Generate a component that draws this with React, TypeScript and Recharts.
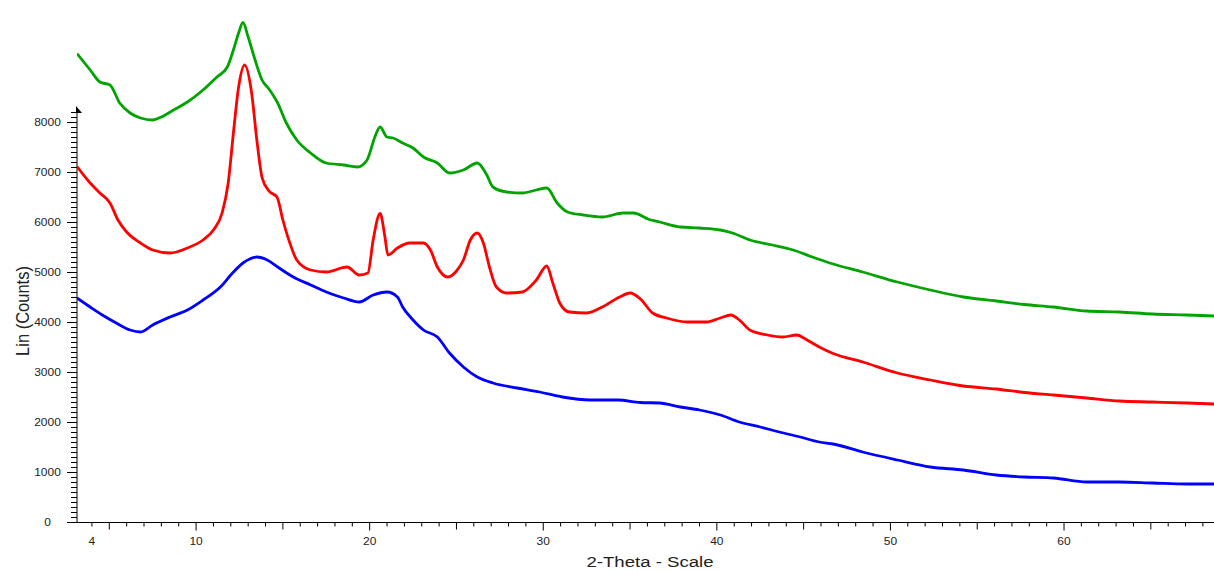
import React from 'react';
import { LineChart, Line, XAxis, YAxis, ReferenceLine, ReferenceDot } from 'recharts';

// 2-Theta positions and counts, per sample
const greenTheta = [3.14, 3.9, 4.46, 5.04, 5.6, 6.2, 6.8, 7.5, 8.0, 8.7, 9.5, 10.4, 11.2, 11.8, 12.15, 12.45, 12.7, 13.0, 13.4, 13.8, 14.2, 14.7, 15.2, 15.8, 16.6, 17.5, 18.5, 19.3, 19.85, 20.3, 20.6, 21.0, 21.35, 21.9, 22.5, 23.1, 23.9, 24.6, 25.4, 26.2, 26.75, 27.1, 27.9, 28.8, 29.6, 30.2, 30.8, 31.4, 32.3, 33.4, 34.6, 35.2, 36.1, 36.7, 37.9, 39.0, 40.2, 40.9, 41.9, 43.2, 44.4, 45.5, 46.7, 48.4, 50.4, 52.3, 54.2, 56.1, 57.7, 59.4, 61.3, 63.2, 65.1, 67.1, 68.64];
const greenCounts = [9380, 9050, 8810, 8750, 8390, 8190, 8090, 8050, 8110, 8250, 8410, 8650, 8910, 9110, 9450, 9790, 10000, 9710, 9250, 8850, 8670, 8390, 7990, 7650, 7390, 7190, 7150, 7110, 7250, 7710, 7910, 7710, 7690, 7590, 7490, 7310, 7190, 6990, 7050, 7190, 6950, 6710, 6610, 6590, 6650, 6690, 6390, 6210, 6150, 6110, 6190, 6190, 6060, 6010, 5910, 5890, 5850, 5790, 5650, 5550, 5450, 5310, 5170, 5010, 4810, 4650, 4510, 4430, 4360, 4310, 4230, 4210, 4170, 4150, 4130];

const redTheta = [3.14, 3.9, 4.46, 5.04, 5.5, 6.0, 6.8, 7.5, 8.5, 9.5, 10.4, 11.0, 11.5, 11.85, 12.15, 12.45, 12.8, 13.2, 13.5, 13.8, 14.2, 14.66, 15.0, 15.4, 15.8, 16.6, 17.5, 18.7, 19.4, 19.9, 20.2, 20.6, 20.88, 21.05, 21.6, 22.3, 23.1, 23.5, 23.9, 24.5, 25.0, 25.4, 25.8, 26.2, 26.55, 26.9, 27.3, 27.9, 28.8, 29.6, 30.2, 30.55, 30.95, 31.5, 32.5, 33.4, 34.4, 35.0, 35.6, 36.3, 37.1, 38.3, 39.4, 40.2, 40.8, 41.3, 41.9, 42.9, 43.8, 44.6, 45.2, 45.9, 46.7, 48.4, 50.4, 52.3, 54.2, 56.1, 57.7, 59.4, 61.3, 63.2, 65.1, 67.1, 68.64];
const redCounts = [7120, 6790, 6590, 6390, 6050, 5810, 5590, 5450, 5390, 5490, 5650, 5850, 6190, 6790, 7790, 8710, 9150, 8590, 7650, 6900, 6630, 6510, 6050, 5590, 5250, 5050, 5010, 5110, 4950, 4990, 5650, 6180, 5710, 5350, 5490, 5590, 5590, 5450, 5110, 4910, 5030, 5250, 5650, 5790, 5590, 5110, 4710, 4590, 4610, 4850, 5130, 4790, 4390, 4210, 4190, 4310, 4510, 4590, 4470, 4190, 4090, 4010, 4010, 4090, 4150, 4050, 3850, 3750, 3710, 3750, 3650, 3510, 3380, 3210, 2990, 2850, 2730, 2670, 2600, 2550, 2490, 2430, 2410, 2390, 2370];

const blueTheta = [3.14, 3.9, 4.6, 5.4, 6.2, 6.8, 7.5, 8.5, 9.5, 10.4, 11.4, 12.1, 12.7, 13.5, 14.1, 14.7, 15.6, 16.6, 17.5, 18.5, 19.4, 20.2, 21.0, 21.6, 21.9, 22.5, 23.1, 23.9, 24.6, 25.4, 26.2, 27.1, 28.5, 29.8, 31.1, 32.7, 34.3, 35.6, 36.7, 37.9, 39.0, 40.2, 41.3, 42.5, 43.6, 44.8, 45.9, 46.7, 48.4, 50.4, 52.3, 54.2, 56.1, 57.7, 59.4, 61.3, 63.2, 65.1, 67.1, 68.64];
const blueCounts = [4490, 4310, 4150, 3990, 3850, 3810, 3950, 4110, 4250, 4450, 4710, 4990, 5190, 5310, 5250, 5110, 4910, 4750, 4610, 4490, 4410, 4550, 4610, 4510, 4310, 4050, 3850, 3710, 3390, 3110, 2910, 2790, 2690, 2610, 2510, 2450, 2450, 2400, 2390, 2310, 2250, 2150, 2010, 1910, 1810, 1710, 1610, 1570, 1410, 1250, 1110, 1050, 950, 910, 890, 810, 810, 790, 770, 770];

const xTicks = Array.from({ length: 65 }, (_, i) => i + 4);
const yTicks = Array.from({ length: 83 }, (_, i) => i * 100);
const xLabels = [4, 10, 20, 30, 40, 50, 60];

const X_MIN = 3.14;
const X_MAX = 68.64;
const Y_ARROW = 8290;

const toRows = (theta: number[], counts: number[]) =>
  theta.map((t, i) => ({ t, c: counts[i] }));

const greenData = toRows(greenTheta, greenCounts);
const redData = toRows(redTheta, redCounts);
const blueData = toRows(blueTheta, blueCounts);

const FONT = '"Liberation Sans", Arial, sans-serif';

const XTick = (props: any) => {
  const { x, y, payload } = props;
  const v = payload.value;
  const len = v % 10 === 0 ? 8 : v % 5 === 0 ? 7 : 4;
  return (
    <g>
      <line x1={x} y1={y} x2={x} y2={y + len} stroke="#000" strokeWidth={1} />
      {xLabels.includes(v) && (
        <text
          transform={`translate(${x},${y + 22.5}) scale(1.2,1)`}
          textAnchor="middle"
          fontSize={10}
          fontFamily={FONT}
          fill="#222"
        >
          {v}
        </text>
      )}
    </g>
  );
};

const YTick = (props: any) => {
  const { x, y, payload } = props;
  const v = payload.value;
  const major = v % 1000 === 0;
  const len = major ? 10 : 6;
  return (
    <g>
      <line x1={x - len} y1={y} x2={x} y2={y} stroke="#000" strokeWidth={1} />
      {major && (
        <text
          transform={`translate(${x - 29.5},${y + 3.6}) scale(1.2,1)`}
          textAnchor="middle"
          fontSize={10}
          fontFamily={FONT}
          fill="#222"
        >
          {v}
        </text>
      )}
    </g>
  );
};

const Arrow = (props: any) => {
  const { cx, cy } = props;
  return <polygon points={`${cx - 1},${cy - 2} ${cx + 5},${cy + 5} ${cx - 1},${cy + 5}`} fill="#000" />;
};

export default function App() {
  return (
    <div style={{ position: 'absolute', left: 0, top: 0 }}>
      <LineChart width={1214} height={572} margin={{ top: 2.5, right: 0, bottom: 0, left: 0 }}>
        <XAxis
          type="number"
          dataKey="t"
          domain={[X_MIN, X_MAX]}
          allowDataOverflow
          ticks={xTicks}
          interval={0}
          tick={<XTick />}
          tickLine={false}
          tickSize={0}
          tickMargin={0}
          height={49.5}
          axisLine={{ stroke: '#000', strokeWidth: 1 }}
          label={{
            content: () => (
              <text
                transform="translate(650,567) scale(1.2,1)"
                textAnchor="middle"
                fontSize={15.5}
                fontFamily={FONT}
                fill="#222"
              >
                2-Theta - Scale
              </text>
            ),
          }}
        />
        <YAxis
          type="number"
          dataKey="c"
          domain={[0, 10400]}
          allowDataOverflow
          ticks={yTicks}
          interval={0}
          tick={<YTick />}
          tickLine={false}
          tickSize={0}
          tickMargin={0}
          width={77}
          axisLine={false}
          label={{
            content: () => (
              <text
                transform="translate(29,311) rotate(-90) scale(1,1.15)"
                textAnchor="middle"
                fontSize={16.5}
                fontFamily={FONT}
                fill="#222"
              >
                Lin (Counts)
              </text>
            ),
          }}
        />
        <ReferenceLine
          segment={[
            { x: X_MIN, y: 0 },
            { x: X_MIN, y: Y_ARROW },
          ]}
          stroke="#000"
          strokeWidth={1}
        />
        <ReferenceDot x={X_MIN} y={Y_ARROW} r={0} shape={<Arrow />} />
        <Line data={greenData} dataKey="c" type="monotone" stroke="#00a400" strokeWidth={2.8} dot={false} isAnimationActive={false} />
        <Line data={redData} dataKey="c" type="monotone" stroke="#ff0000" strokeWidth={2.8} dot={false} isAnimationActive={false} />
        <Line data={blueData} dataKey="c" type="monotone" stroke="#0000ff" strokeWidth={2.8} dot={false} isAnimationActive={false} />
      </LineChart>
    </div>
  );
}
